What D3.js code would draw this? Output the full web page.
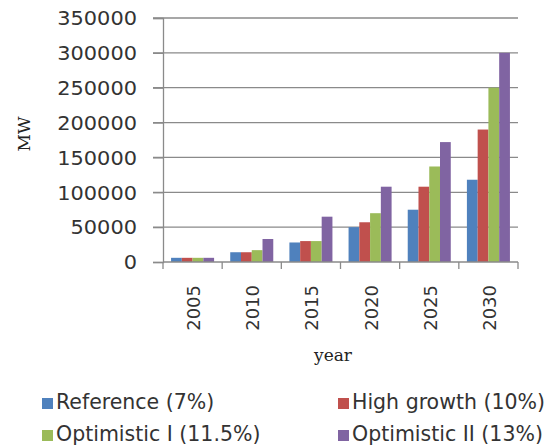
<!DOCTYPE html>
<html>
<head>
<meta charset="utf-8">
<script src="https://cdn.jsdelivr.net/npm/d3@7"></script>
<style>
  html, body { margin: 0; padding: 0; background: #fff; }
  svg { display: block; }
</style>
</head>
<body>
<svg id="chart" width="553" height="448"></svg>
<script>
const years = ["2005", "2010", "2015", "2020", "2025", "2030"];
const seriesNames = ["Reference (7%)", "High growth (10%)", "Optimistic I (11.5%)", "Optimistic II (13%)"];
const reference = [6000, 14000, 28000, 50000, 75000, 118000];
const highGrowth = [6000, 14000, 30000, 57000, 108000, 190000];
const optimistic1 = [6000, 17000, 30000, 70000, 137000, 250000];
const optimistic2 = [6000, 33000, 65000, 108000, 172000, 300000];
const yTicks = [0, 50000, 100000, 150000, 200000, 250000, 300000, 350000];
const colors = ["#4F81BD", "#C0504D", "#9BBB59", "#8064A2"];

const seriesValues = [reference, highGrowth, optimistic1, optimistic2];

const svg = d3.select("#chart");
const plot = { left: 163, right: 518, top: 18, bottom: 262 };

const x = d3.scaleBand().domain(years).range([plot.left, plot.right]).padding(0);
const x1 = d3.scaleBand().domain(seriesNames).range([0, x.bandwidth()]).paddingInner(0).paddingOuter(0.75);
const y = d3.scaleLinear().domain([0, 350000]).range([plot.bottom, plot.top]);

const gridColor = "#8a8a8a";

// gridlines + left ticks
svg.append("g").selectAll("line").data(yTicks.filter(d => d > 0)).join("line")
  .attr("x1", plot.left - 10).attr("x2", plot.right)
  .attr("y1", d => y(d)).attr("y2", d => y(d))
  .attr("stroke", gridColor).attr("stroke-width", 1.3);

// bars
const groups = svg.append("g").selectAll("g").data(years).join("g")
  .attr("transform", d => `translate(${x(d)},0)`);
groups.selectAll("rect")
  .data((yr, i) => seriesNames.map((s, k) => ({ s, k, v: seriesValues[k][i] })))
  .join("rect")
  .attr("x", d => x1(d.s))
  .attr("width", x1.bandwidth())
  .attr("y", d => y(d.v))
  .attr("height", d => y(0) - y(d.v))
  .attr("fill", d => colors[d.k]);

// y axis
const yAxis = d3.axisLeft(y).tickValues(yTicks).tickSize(10).tickPadding(16).tickFormat(d3.format("d"));
const yg = svg.append("g").attr("transform", `translate(${plot.left},0)`).call(yAxis);
yg.select(".domain").attr("stroke", gridColor).attr("stroke-width", 1.3);
yg.selectAll(".tick line").attr("stroke", gridColor).attr("stroke-width", 1.3);
yg.selectAll(".tick text")
  .attr("font-family", "DejaVu Sans").attr("font-size", 19).attr("fill", "#333")
  .attr("dy", "0.36em")
  .each(function () {
    const w = this.getComputedTextLength();
    d3.select(this).attr("textLength", w * 1.1).attr("lengthAdjust", "spacingAndGlyphs");
  });

// x axis
const xg = svg.append("g").attr("transform", `translate(0,${plot.bottom})`);
xg.append("line").attr("x1", plot.left).attr("x2", plot.right).attr("y1", 0).attr("y2", 0)
  .attr("stroke", gridColor).attr("stroke-width", 1.3);
const boundaries = years.map(d => x(d)).concat([x(years[years.length - 1]) + x.bandwidth()]);
xg.selectAll("line.tk").data(boundaries).join("line").attr("class", "tk")
  .attr("x1", d => d).attr("x2", d => d).attr("y1", 0).attr("y2", 7)
  .attr("stroke", gridColor).attr("stroke-width", 1.3);
xg.selectAll("text").data(years).join("text")
  .attr("transform", d => `translate(${x(d) + x.bandwidth() / 2 + 1},${23}) rotate(-90)`)
  .attr("text-anchor", "end").attr("dy", "0.36em")
  .attr("font-family", "DejaVu Sans").attr("font-size", 18).attr("fill", "#333")
  .text(d => d);

// axis titles
svg.append("text")
  .attr("transform", `translate(30,134) rotate(-90)`)
  .attr("text-anchor", "middle")
  .attr("font-family", "DejaVu Serif").attr("font-size", 17).attr("fill", "#222")
  .text("MW");
svg.append("text")
  .attr("x", 333).attr("y", 361)
  .attr("text-anchor", "middle")
  .attr("font-family", "DejaVu Serif").attr("font-size", 17).attr("fill", "#222")
  .text("year");

// legend
const legendPos = [[42, 409], [338, 409], [42, 441], [338, 441]];
const lg = svg.append("g").selectAll("g").data(seriesNames).join("g")
  .attr("transform", (d, i) => `translate(${legendPos[i][0]},${legendPos[i][1]})`);
lg.append("rect").attr("x", 0).attr("y", -11).attr("width", 11).attr("height", 11)
  .attr("fill", (d, i) => colors[i]);
lg.append("text").attr("x", 14).attr("y", 0)
  .attr("font-family", "DejaVu Sans").attr("font-size", 20.5).attr("fill", "#333")
  .text(d => d);
</script>
</body>
</html>
